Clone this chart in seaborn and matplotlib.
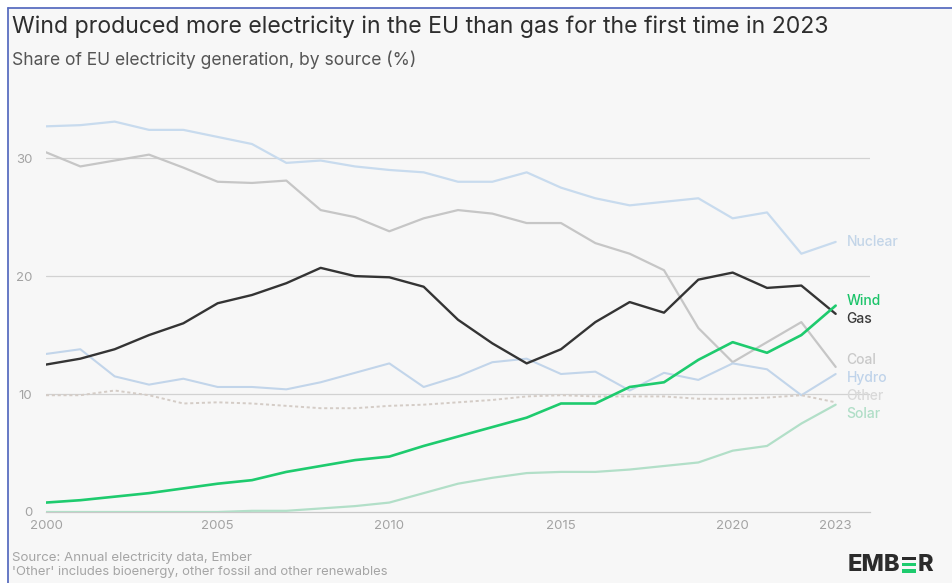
import matplotlib
matplotlib.use("Agg")
import matplotlib.pyplot as plt
import pandas as pd
import seaborn as sns
from matplotlib.patches import Rectangle
from matplotlib.lines import Line2D

# ---- data: share of EU electricity generation (%) ----
years = list(range(2000, 2024))
nuclear = [32.7, 32.8, 33.1, 32.4, 32.4, 31.8, 31.2, 29.6, 29.8, 29.3, 29.0, 28.8,
           28.0, 28.0, 28.8, 27.5, 26.6, 26.0, 26.3, 26.6, 24.9, 25.4, 21.9, 22.9]
coal = [30.5, 29.3, 29.8, 30.3, 29.2, 28.0, 27.9, 28.1, 25.6, 25.0, 23.8, 24.9,
        25.6, 25.3, 24.5, 24.5, 22.8, 21.9, 20.5, 15.6, 12.7, 14.4, 16.1, 12.3]
gas = [12.5, 13.0, 13.8, 15.0, 16.0, 17.7, 18.4, 19.4, 20.7, 20.0, 19.9, 19.1,
       16.3, 14.3, 12.6, 13.8, 16.1, 17.8, 16.9, 19.7, 20.3, 19.0, 19.2, 16.8]
wind = [0.8, 1.0, 1.3, 1.6, 2.0, 2.4, 2.7, 3.4, 3.9, 4.4, 4.7, 5.6,
        6.4, 7.2, 8.0, 9.2, 9.2, 10.6, 11.0, 12.9, 14.4, 13.5, 15.0, 17.5]
hydro = [13.4, 13.8, 11.5, 10.8, 11.3, 10.6, 10.6, 10.4, 11.0, 11.8, 12.6, 10.6,
         11.5, 12.7, 13.0, 11.7, 11.9, 10.3, 11.8, 11.2, 12.6, 12.1, 9.9, 11.7]
other = [9.9, 9.9, 10.3, 9.9, 9.2, 9.3, 9.2, 9.0, 8.8, 8.8, 9.0, 9.1,
         9.3, 9.5, 9.8, 9.9, 9.8, 9.8, 9.8, 9.6, 9.6, 9.7, 9.9, 9.3]
solar = [0.0, 0.0, 0.0, 0.0, 0.0, 0.0, 0.1, 0.1, 0.3, 0.5, 0.8, 1.6,
         2.4, 2.9, 3.3, 3.4, 3.4, 3.6, 3.9, 4.2, 5.2, 5.6, 7.5, 9.1]

series = {"Nuclear": nuclear, "Coal": coal, "Hydro": hydro, "Other": other,
          "Solar": solar, "Gas": gas, "Wind": wind}

x_ticks = [2000, 2005, 2010, 2015, 2020, 2023]
y_ticks = [0, 10, 20, 30]

line_colors = {"Nuclear": "#c8dbee", "Coal": "#c6c6c6", "Hydro": "#c2d5ea",
               "Other": "#d4ccc6", "Solar": "#b2dfc8", "Gas": "#343434",
               "Wind": "#1ecb6e"}
label_colors = {"Nuclear": "#c3d5e8", "Coal": "#c9c9c9", "Hydro": "#bfd3ea",
                "Other": "#d9d9d9", "Solar": "#b0dec7", "Gas": "#3a3a3a",
                "Wind": "#1cc46a"}
widths = {"Nuclear": 1.6, "Coal": 1.6, "Hydro": 1.5, "Other": 1.4,
          "Solar": 1.6, "Gas": 1.7, "Wind": 1.9}

df = pd.DataFrame({"year": years, **series}).melt(
    id_vars="year", var_name="source", value_name="share")

sns.set_theme(style="white")
plt.rcParams["font.family"] = ["Inter", "DejaVu Sans"]

W, H = 953, 583
fig = plt.figure(figsize=(W / 100, H / 100), dpi=100, facecolor="white")

# panel background with blue top/left border
fig.patches.append(Rectangle((8 / W, 0), 1 - 8 / W, 1 - 8 / H,
                             transform=fig.transFigure, facecolor="#f7f7f7",
                             edgecolor="none", zorder=-2))
fig.lines.append(Line2D([8 / W, 1], [1 - 8 / H, 1 - 8 / H], transform=fig.transFigure,
                        color="#5a6ec0", lw=1.3, zorder=-1))
fig.lines.append(Line2D([8 / W, 8 / W], [0, 1 - 8 / H], transform=fig.transFigure,
                        color="#5a6ec0", lw=1.3, zorder=-1))

ax = fig.add_axes([46 / W, (H - 512) / H, 824 / W, (512 - 111) / H])
ax.patch.set_alpha(0)

for src in series:
    sub = df[df["source"] == src]
    sns.lineplot(data=sub, x="year", y="share", ax=ax, color=line_colors[src],
                 lw=widths[src], linestyle=(0, (1.6, 1.4)) if src == "Other" else "-",
                 zorder=5 if src in ("Gas", "Wind") else 3, legend=False)

ax.set_xlim(2000, 2024)
ax.set_ylim(0, 34)
ax.set_xticks(x_ticks)
ax.set_yticks(y_ticks)
ax.set_xlabel("")
ax.set_ylabel("")
for v in y_ticks[1:]:
    ax.axhline(v, color="#d2d2d2", lw=0.9, zorder=1)
for s in ["top", "right", "left"]:
    ax.spines[s].set_visible(False)
ax.spines["bottom"].set_color("#c9c9c9")
ax.spines["bottom"].set_linewidth(0.9)
ax.tick_params(axis="x", length=4, width=0.8, color="#c9c9c9", labelsize=9.5,
               labelcolor="#a3a3a3", pad=2)
ax.tick_params(axis="y", length=0, labelsize=9.5, labelcolor="#a3a3a3", pad=10)

# end-of-line labels, spread apart where they would overlap
gap = 1.5
items = sorted(((series[k][-1], k) for k in series), reverse=True)
clusters = [[v, [k]] for v, k in items]
changed = True
while changed:
    changed = False
    for i in range(len(clusters) - 1):
        a, b = clusters[i], clusters[i + 1]
        a_low = a[0] - gap * (len(a[1]) - 1) / 2
        b_high = b[0] + gap * (len(b[1]) - 1) / 2
        if a_low - b_high < gap:
            members = a[1] + b[1]
            center = sum(series[m][-1] for m in members) / len(members)
            clusters[i] = [center, members]
            del clusters[i + 1]
            changed = True
            break
for center, members in clusters:
    top = center + gap * (len(members) - 1) / 2
    for j, m in enumerate(members):
        ax.text(2023.32, top - j * gap, m, color=label_colors[m], fontsize=10,
                fontweight="medium", va="center", ha="left", zorder=6)

fig.text(12 / W, 1 - 27 / H, "Wind produced more electricity in the EU than gas for the first time in 2023",
         fontsize=16.6, color="#2e2e2e", va="center", ha="left")
fig.text(12 / W, 1 - 60 / H, "Share of EU electricity generation, by source (%)",
         fontsize=12.6, color="#555555", va="center", ha="left")
fig.text(12 / W, 1 - 558 / H, "Source: Annual electricity data, Ember",
         fontsize=9.6, color="#a5a5a5", va="center", ha="left")
fig.text(12 / W, 1 - 572 / H, "'Other' includes bioenergy, other fossil and other renewables",
         fontsize=9.4, color="#a5a5a5", va="center", ha="left")

# EMBER wordmark
logo_y = 1 - 565 / H
t1 = fig.text(848 / W, logo_y, "EMB", fontsize=17, fontweight="heavy",
              color="#2b2b2b", va="center", ha="left", family=["Inter", "DejaVu Sans"])
fig.canvas.draw()
bb = t1.get_window_extent()
x0 = bb.x1 + 1.5
bar_w, bar_h = 14, 3.6
cap_top = H - 556.5
for k, c in enumerate(["#2b2b2b", "#1ecb6e", "#1ecb6e"]):
    yb = cap_top - bar_h - k * 6.3
    fig.patches.append(Rectangle((x0 / W, yb / H), bar_w / W, bar_h / H,
                                 transform=fig.transFigure, facecolor=c,
                                 edgecolor="none", zorder=3))
fig.text((x0 + bar_w + 2) / W, logo_y, "R", fontsize=17, fontweight="heavy",
         color="#2b2b2b", va="center", ha="left", family=["Inter", "DejaVu Sans"])

fig.savefig("out.png", dpi=100, facecolor=fig.get_facecolor())
